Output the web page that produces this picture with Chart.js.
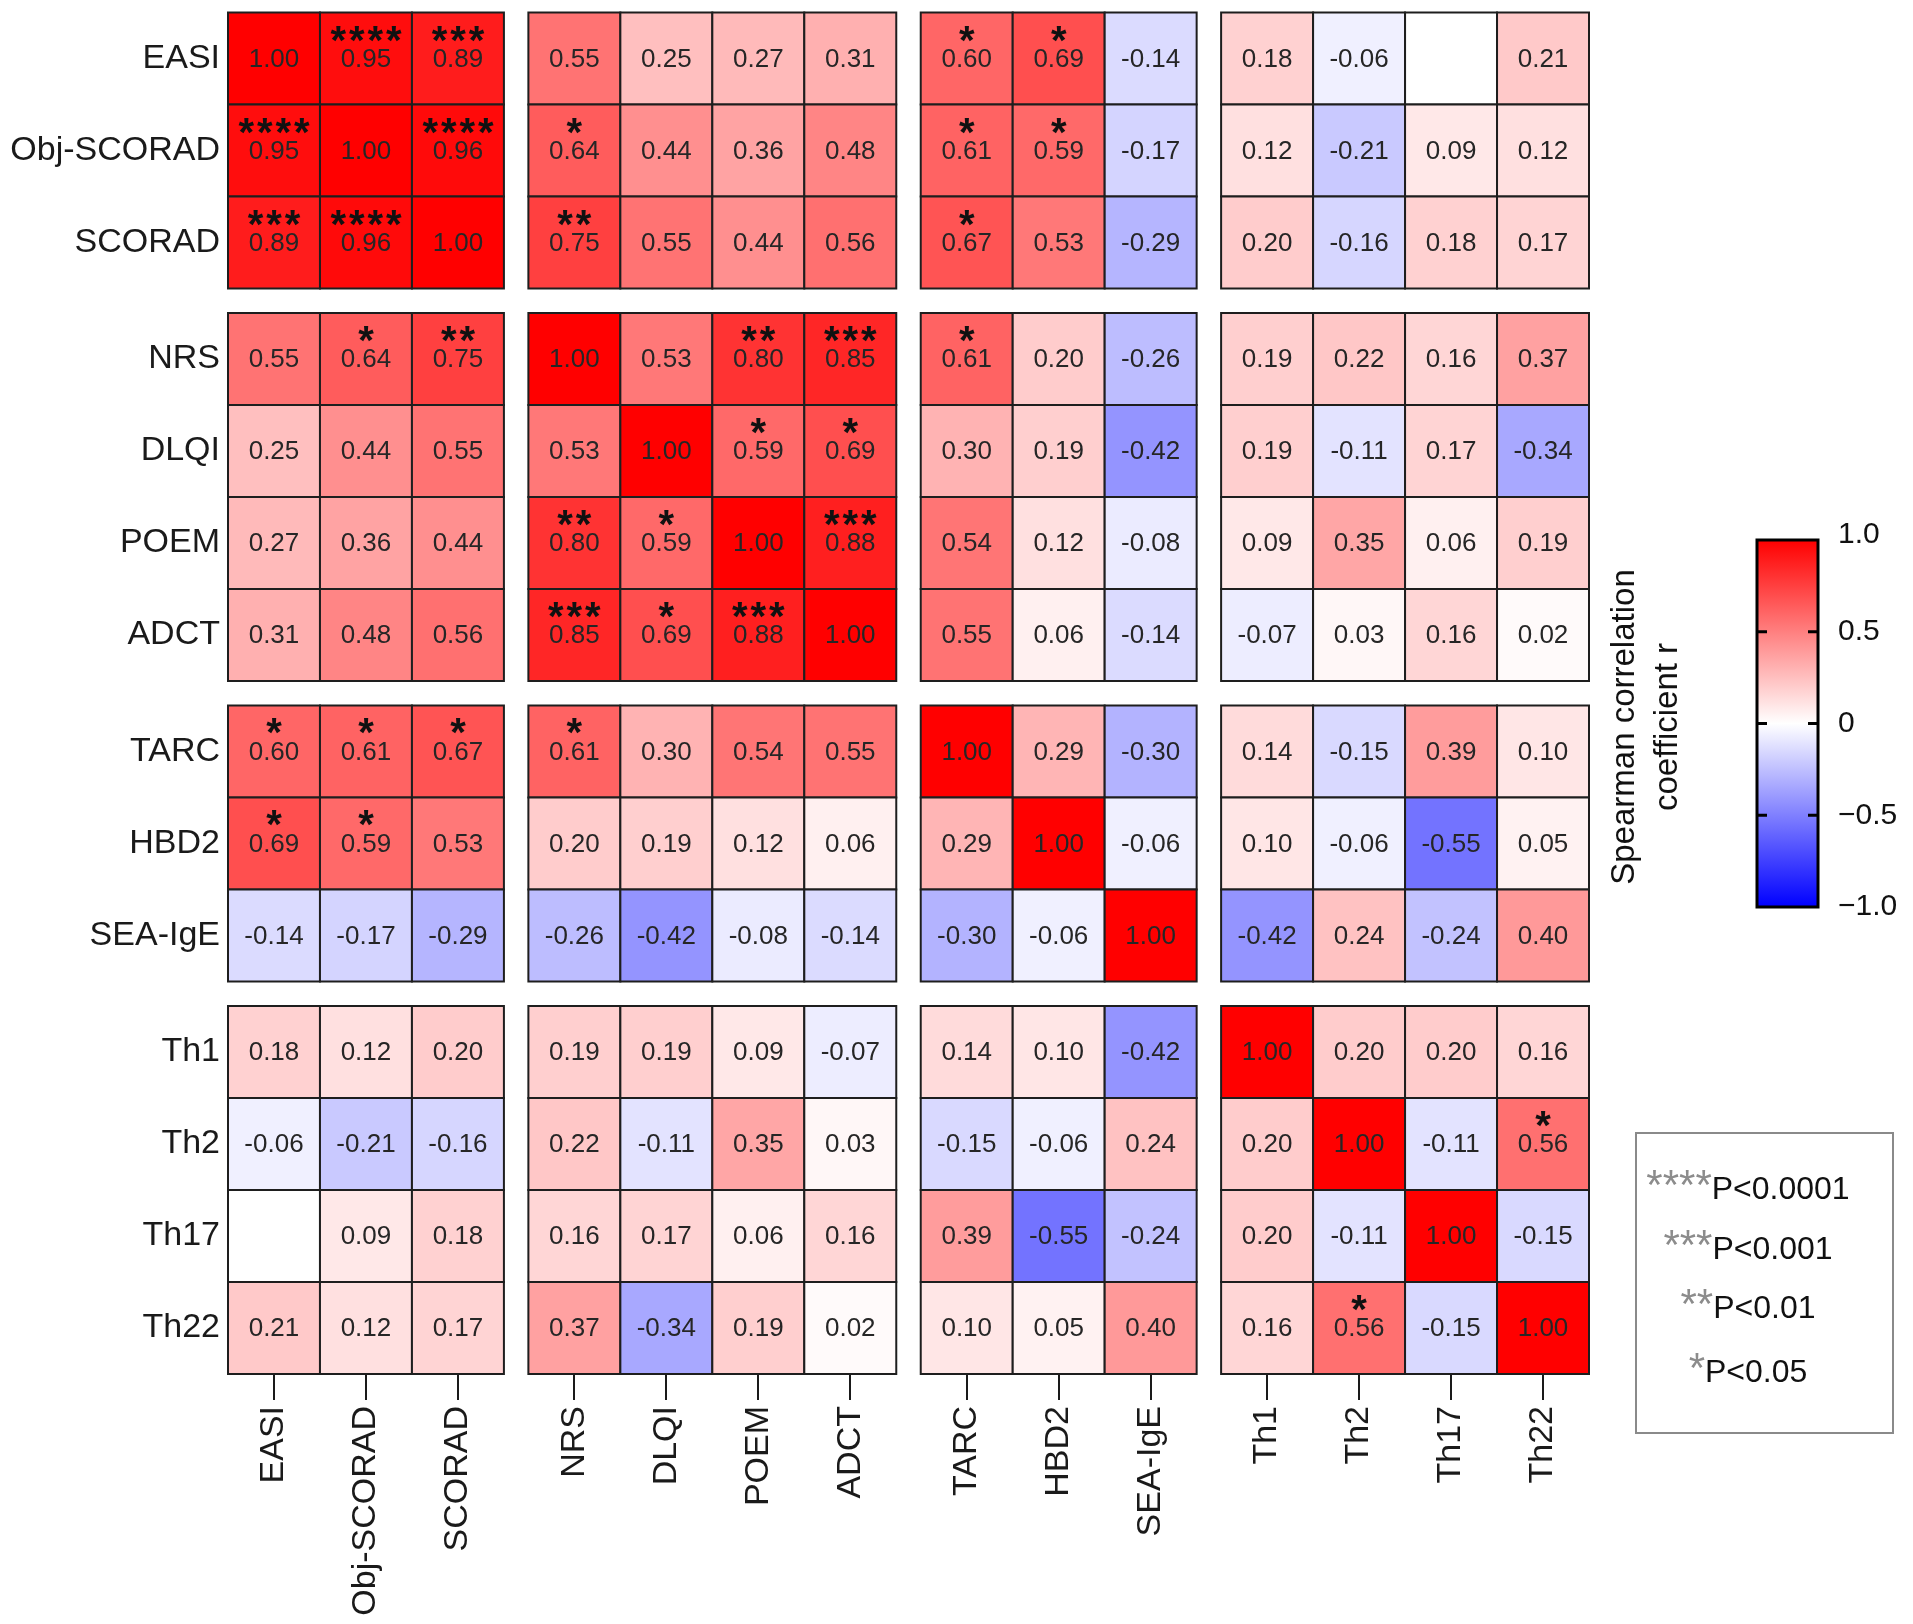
<!DOCTYPE html>
<html>
<head>
<meta charset="utf-8">
<script src="https://cdn.jsdelivr.net/npm/chart.js@4.4.1/dist/chart.umd.min.js"></script>
<style>
  html, body { margin: 0; padding: 0; background: #fff; }
  #wrap { width: 1913px; height: 1624px; position: relative; }
</style>
</head>
<body>
<div id="wrap"><canvas id="heatmap"></canvas></div>
<script>
// Variables (same order on both axes) and the block each one belongs to
const labels = ['EASI', 'Obj-SCORAD', 'SCORAD', 'NRS', 'DLQI', 'POEM', 'ADCT', 'TARC', 'HBD2', 'SEA-IgE', 'Th1', 'Th2', 'Th17', 'Th22'];
const groups = [0, 0, 0, 1, 1, 1, 1, 2, 2, 2, 3, 3, 3, 3];

// Spearman r, one array per row (null = empty cell)
const rEASI    = [1.00, 0.95, 0.89, 0.55, 0.25, 0.27, 0.31, 0.60, 0.69, -0.14, 0.18, -0.06, null, 0.21];
const rObj     = [0.95, 1.00, 0.96, 0.64, 0.44, 0.36, 0.48, 0.61, 0.59, -0.17, 0.12, -0.21, 0.09, 0.12];
const rSCORAD  = [0.89, 0.96, 1.00, 0.75, 0.55, 0.44, 0.56, 0.67, 0.53, -0.29, 0.20, -0.16, 0.18, 0.17];
const rNRS     = [0.55, 0.64, 0.75, 1.00, 0.53, 0.80, 0.85, 0.61, 0.20, -0.26, 0.19, 0.22, 0.16, 0.37];
const rDLQI    = [0.25, 0.44, 0.55, 0.53, 1.00, 0.59, 0.69, 0.30, 0.19, -0.42, 0.19, -0.11, 0.17, -0.34];
const rPOEM    = [0.27, 0.36, 0.44, 0.80, 0.59, 1.00, 0.88, 0.54, 0.12, -0.08, 0.09, 0.35, 0.06, 0.19];
const rADCT    = [0.31, 0.48, 0.56, 0.85, 0.69, 0.88, 1.00, 0.55, 0.06, -0.14, -0.07, 0.03, 0.16, 0.02];
const rTARC    = [0.60, 0.61, 0.67, 0.61, 0.30, 0.54, 0.55, 1.00, 0.29, -0.30, 0.14, -0.15, 0.39, 0.10];
const rHBD2    = [0.69, 0.59, 0.53, 0.20, 0.19, 0.12, 0.06, 0.29, 1.00, -0.06, 0.10, -0.06, -0.55, 0.05];
const rSEA     = [-0.14, -0.17, -0.29, -0.26, -0.42, -0.08, -0.14, -0.30, -0.06, 1.00, -0.42, 0.24, -0.24, 0.40];
const rTh1     = [0.18, 0.12, 0.20, 0.19, 0.19, 0.09, -0.07, 0.14, 0.10, -0.42, 1.00, 0.20, 0.20, 0.16];
const rTh2     = [-0.06, -0.21, -0.16, 0.22, -0.11, 0.35, 0.03, -0.15, -0.06, 0.24, 0.20, 1.00, -0.11, 0.56];
const rTh17    = [null, 0.09, 0.18, 0.16, 0.17, 0.06, 0.16, 0.39, -0.55, -0.24, 0.20, -0.11, 1.00, -0.15];
const rTh22    = [0.21, 0.12, 0.17, 0.37, -0.34, 0.19, 0.02, 0.10, 0.05, 0.40, 0.16, 0.56, -0.15, 1.00];

// number of significance stars per cell
const sEASI    = [0, 4, 3, 0, 0, 0, 0, 1, 1, 0, 0, 0, 0, 0];
const sObj     = [4, 0, 4, 1, 0, 0, 0, 1, 1, 0, 0, 0, 0, 0];
const sSCORAD  = [3, 4, 0, 2, 0, 0, 0, 1, 0, 0, 0, 0, 0, 0];
const sNRS     = [0, 1, 2, 0, 0, 2, 3, 1, 0, 0, 0, 0, 0, 0];
const sDLQI    = [0, 0, 0, 0, 0, 1, 1, 0, 0, 0, 0, 0, 0, 0];
const sPOEM    = [0, 0, 0, 2, 1, 0, 3, 0, 0, 0, 0, 0, 0, 0];
const sADCT    = [0, 0, 0, 3, 1, 3, 0, 0, 0, 0, 0, 0, 0, 0];
const sTARC    = [1, 1, 1, 1, 0, 0, 0, 0, 0, 0, 0, 0, 0, 0];
const sHBD2    = [1, 1, 0, 0, 0, 0, 0, 0, 0, 0, 0, 0, 0, 0];
const sSEA     = [0, 0, 0, 0, 0, 0, 0, 0, 0, 0, 0, 0, 0, 0];
const sTh1     = [0, 0, 0, 0, 0, 0, 0, 0, 0, 0, 0, 0, 0, 0];
const sTh2     = [0, 0, 0, 0, 0, 0, 0, 0, 0, 0, 0, 0, 0, 1];
const sTh17    = [0, 0, 0, 0, 0, 0, 0, 0, 0, 0, 0, 0, 0, 0];
const sTh22    = [0, 0, 0, 0, 0, 0, 0, 0, 0, 0, 0, 1, 0, 0];

// colour bar and key
const cbTicks = [1.0, 0.5, 0, -0.5, -1.0];
const cbLabels = ['1.0', '0.5', '0', '\u22120.5', '\u22121.0'];
const pStars = ['****', '***', '**', '*'];
const pLabels = ['P<0.0001', 'P<0.001', 'P<0.01', 'P<0.05'];

const rows = [rEASI, rObj, rSCORAD, rNRS, rDLQI, rPOEM, rADCT, rTARC, rHBD2, rSEA, rTh1, rTh2, rTh17, rTh22];
const stars = [sEASI, sObj, sSCORAD, sNRS, sDLQI, sPOEM, sADCT, sTARC, sHBD2, sSEA, sTh1, sTh2, sTh17, sTh22];

const FONT = '"Liberation Sans", Arial, Helvetica, sans-serif';
const GAP = 0.266; // white gap between blocks, in cell units
const pos = i => i + groups[i] * GAP;
const axisMax = pos(labels.length - 1) + 0.5;

function cellColor(v) {
  if (v === null) return '#ffffff';
  const t = Math.min(1, Math.abs(v));
  const c = Math.round(255 * (1 - t));
  return v >= 0 ? `rgb(255,${c},${c})` : `rgb(${c},${c},255)`;
}

const cells = [];
rows.forEach((row, r) => {
  row.forEach((v, c) => {
    cells.push({ x: pos(c), y: pos(r), v: v, s: stars[r][c] });
  });
});

// side of one cell in pixels, from the x scale
function cellSide(chart) {
  const xs = chart.scales.x;
  return Math.abs(xs.getPixelForValue(1) - xs.getPixelForValue(0));
}

const cellText = {
  id: 'cellText',
  afterDatasetsDraw(chart) {
    const ctx = chart.ctx;
    const meta = chart.getDatasetMeta(0);
    ctx.save();
    ctx.textAlign = 'center';
    meta.data.forEach((pt, i) => {
      const d = cells[i];
      if (d.v === null) return;
      ctx.fillStyle = '#262626';
      ctx.font = '26px ' + FONT;
      ctx.textBaseline = 'middle';
      ctx.fillText(d.v.toFixed(2), pt.x, pt.y + 1);
      if (d.s > 0) {
        ctx.fillStyle = '#111';
        ctx.font = 'bold 40px ' + FONT;
        ctx.textBaseline = 'alphabetic';
        const step = 18.5;
        for (let k = 0; k < d.s; k++) {
          ctx.fillText('*', pt.x + (k - (d.s - 1) / 2) * step, pt.y - 5);
        }
      }
    });
    ctx.restore();
  }
};

const sideDecor = {
  id: 'sideDecor',
  afterDraw(chart) {
    const ctx = chart.ctx;
    ctx.save();

    // colour bar
    const L = 1757, R = 1818, T = 540, B = 907;
    const grad = ctx.createLinearGradient(0, T, 0, B);
    grad.addColorStop(0, '#ff0000');
    grad.addColorStop(0.5, '#ffffff');
    grad.addColorStop(1, '#0000ff');
    ctx.fillStyle = grad;
    ctx.fillRect(L, T, R - L, B - T);
    ctx.strokeStyle = '#000';
    ctx.lineWidth = 3;
    ctx.strokeRect(L, T, R - L, B - T);
    ctx.fillStyle = '#111';
    ctx.font = '30px ' + FONT;
    ctx.textAlign = 'left';
    ctx.textBaseline = 'middle';
    cbTicks.forEach((v, i) => {
      const y = T + (1 - v) / 2 * (B - T);
      if (Math.abs(v) < 1) {
        ctx.beginPath();
        ctx.moveTo(L, y); ctx.lineTo(L + 10, y);
        ctx.moveTo(R - 10, y); ctx.lineTo(R, y);
        ctx.stroke();
      }
      ctx.fillText(cbLabels[i], 1838, y - (v === 1 ? 5 : 0));
    });

    // colour bar title
    ctx.save();
    ctx.translate(1645, 727);
    ctx.rotate(-Math.PI / 2);
    ctx.textAlign = 'center';
    ctx.textBaseline = 'middle';
    ctx.font = '33px ' + FONT;
    ctx.fillText('Spearman correlation', 0, -20);
    ctx.fillText('coefficient r', 0, 23);
    ctx.restore();

    // significance key
    ctx.strokeStyle = '#8a8a8a';
    ctx.lineWidth = 2;
    ctx.strokeRect(1636, 1133, 257, 300);
    const baselines = [1199, 1259, 1318, 1382];
    ctx.textBaseline = 'alphabetic';
    ctx.textAlign = 'left';
    pLabels.forEach((t, i) => {
      ctx.font = '42px ' + FONT;
      const ws = ctx.measureText(pStars[i]).width;
      ctx.font = '32px ' + FONT;
      const wt = ctx.measureText(t).width;
      const x0 = 1748 - (ws + wt) / 2;
      ctx.font = '42px ' + FONT;
      ctx.fillStyle = '#8c8c8c';
      ctx.fillText(pStars[i], x0, baselines[i]);
      ctx.font = '32px ' + FONT;
      ctx.fillStyle = '#111';
      ctx.fillText(t, x0 + ws, baselines[i]);
    });

    ctx.restore();
  }
};

const tickValues = labels.map((_, i) => pos(i));

function noPadding(axis) {
  axis.paddingTop = 0;
  axis.paddingBottom = 0;
  axis.paddingLeft = 0;
  axis.paddingRight = 0;
}

new Chart(document.getElementById('heatmap').getContext('2d'), {
  type: 'scatter',
  data: {
    datasets: [{
      data: cells,
      pointStyle: 'rect',
      pointRadius: ctx => cellSide(ctx.chart) / Math.SQRT2,
      pointHoverRadius: ctx => cellSide(ctx.chart) / Math.SQRT2,
      backgroundColor: ctx => cellColor(ctx.raw ? ctx.raw.v : null),
      borderColor: '#1e1e1e',
      borderWidth: 2,
      clip: false
    }]
  },
  options: {
    responsive: true,
    maintainAspectRatio: false,
    animation: false,
    events: [],
    layout: { padding: { top: 12.5, right: 324, left: 0, bottom: 0 } },
    plugins: {
      legend: { display: false },
      tooltip: { enabled: false }
    },
    scales: {
      x: {
        type: 'linear',
        position: 'bottom',
        min: -0.5,
        max: axisMax,
        afterBuildTicks: axis => { axis.ticks = tickValues.map(v => ({ value: v })); },
        afterFit: axis => { axis.height = 250; noPadding(axis); },
        ticks: {
          autoSkip: false,
          minRotation: 90,
          maxRotation: 90,
          padding: 6,
          color: '#1a1a1a',
          font: { family: FONT, size: 34 },
          callback: (val, idx) => labels[idx]
        },
        grid: {
          display: true,
          drawOnChartArea: false,
          drawTicks: true,
          tickLength: 26,
          lineWidth: 2,
          color: '#1a1a1a'
        },
        border: { display: false }
      },
      y: {
        type: 'linear',
        reverse: true,
        min: -0.5,
        max: axisMax,
        afterBuildTicks: axis => { axis.ticks = tickValues.map(v => ({ value: v })); },
        afterFit: axis => { axis.width = 228; noPadding(axis); },
        ticks: {
          autoSkip: false,
          padding: 8,
          color: '#1a1a1a',
          font: { family: FONT, size: 34 },
          callback: (val, idx) => labels[idx]
        },
        grid: { display: false, drawTicks: false },
        border: { display: false }
      }
    }
  },
  plugins: [cellText, sideDecor]
});
</script>
</body>
</html>
